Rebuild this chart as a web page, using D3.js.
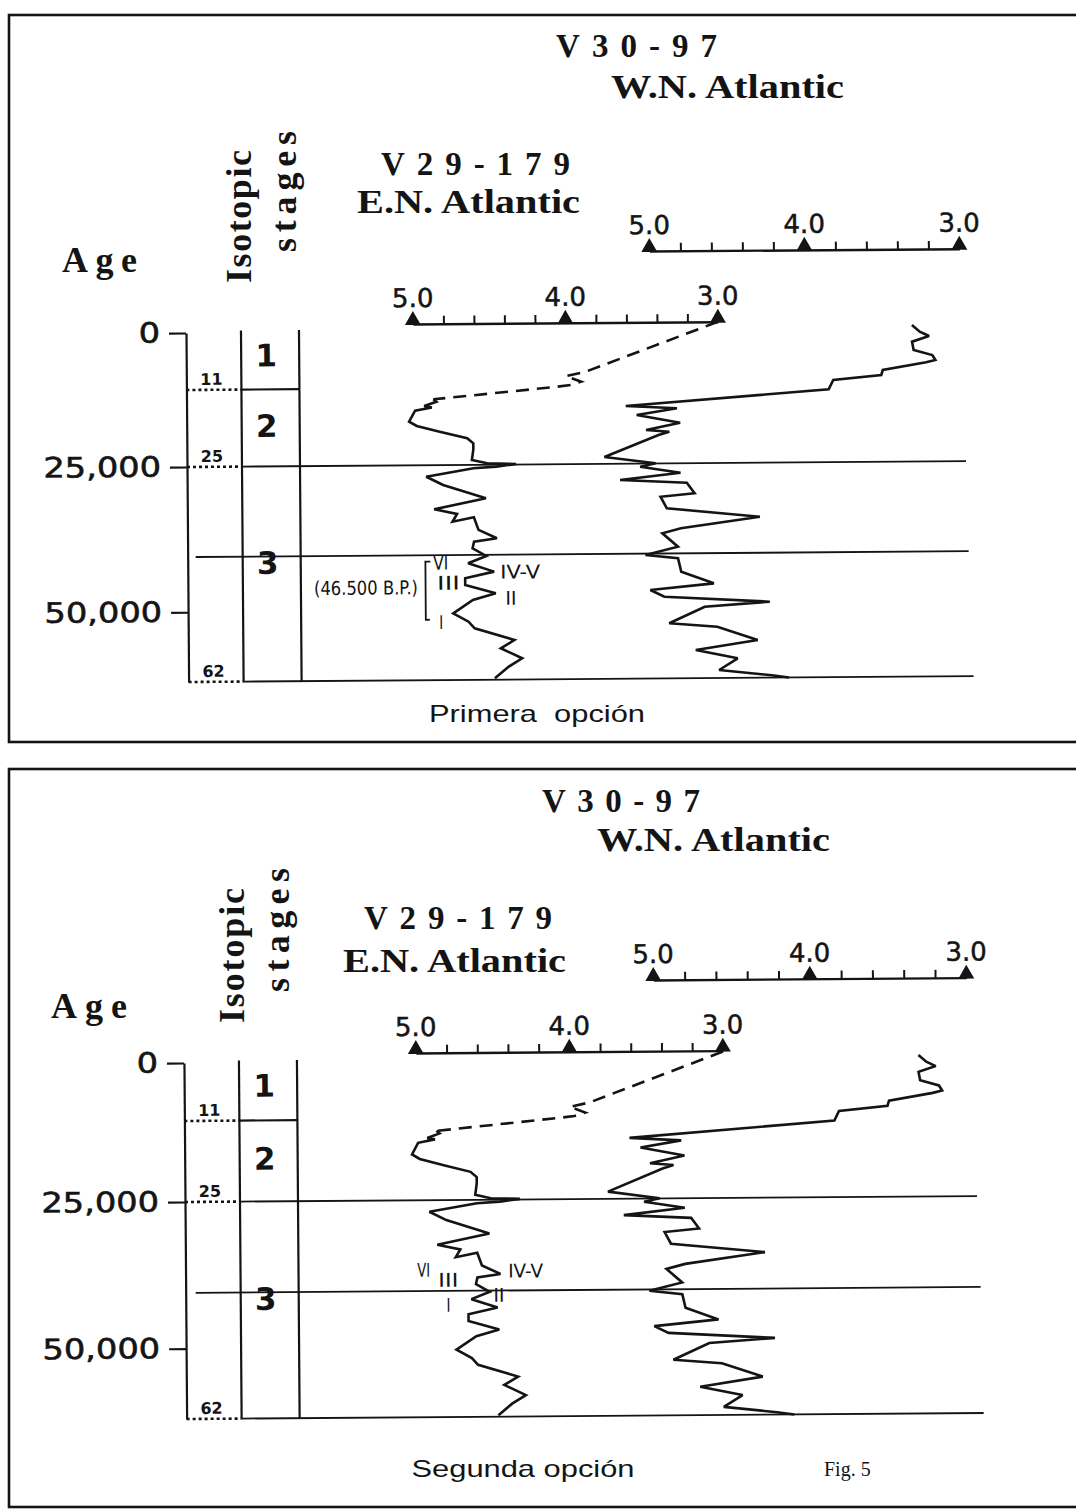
<!DOCTYPE html>
<html>
<head>
<meta charset="utf-8">
<script src="https://cdnjs.cloudflare.com/ajax/libs/d3/7.8.5/d3.min.js"></script>
<style>
  body { margin: 0; background: #fff; }
  svg { display: block; }
</style>
</head>
<body>
<svg id="fig" width="1076" height="1511"></svg>
<script>
// ---- values: ages in kyr B.P., d18O in per mil ----
var ageTicks = [0, 25, 50];
var ageTickLabels = ["0", "25,000", "50,000"];
var stageBounds = [11, 25, 62];
var stageNames = ["1", "2", "3"];
var stageNameAge = [4.4, 17.6, 41.6];
var corrLineAge = [25, 40.5, 62];
var o18Major = [5.0, 4.0, 3.0];
var o18Minor = [4.8, 4.6, 4.4, 4.2, 3.8, 3.6, 3.4, 3.2];

var coreNames = ["V30-97", "V29-179"];
var coreRegions = ["W.N. Atlantic", "E.N. Atlantic"];
var captions = ["Primera  opción", "Segunda opción"];

// V29-179 (E.N. Atlantic), dashed top part then the measured curve
var v29DashAge = [-1.4, 8.05, 8.85, 9.97, 10.6, 11.0, 13.03];
var v29DashO18 = [3.0, 3.87, 4.00, 3.90, 3.97, 4.09, 4.87];
var v29Age = [13.03, 13.47, 14.24, 14.5, 15.07, 17.07, 17.86, 18.93, 20.16, 21.08,
              22.17, 24.11, 24.74, 24.9, 25.34, 25.59, 26.98, 28.42, 30.77, 32.6,
              33.44, 34.76, 34.03, 36.2, 37.67, 38.23, 39.36, 40.7, 41.93, 43.4,
              44.5, 45.67, 47.13, 48.25, 50.52, 51.98, 53.13, 55.2, 56.6, 58.35,
              59.8, 61.76];
var v29O18 = [4.87, 4.85, 4.93, 4.88, 4.99, 5.03, 4.98, 4.83, 4.65, 4.61,
              4.61, 4.62, 4.52, 4.33, 4.46, 4.61, 4.92, 4.81, 4.53, 4.87,
              4.72, 4.75, 4.61, 4.58, 4.46, 4.61, 4.62, 4.53, 4.65, 4.48,
              4.67, 4.67, 4.47, 4.62, 4.75, 4.65, 4.61, 4.35, 4.44, 4.30,
              4.39, 4.48];

// V30-97 (W.N. Atlantic)
var v30Age = [-0.49, 0.81, 1.65, 2.73, 4.33, 5.33, 6.30, 6.73, 8.15, 9.11,
              10.01, 11.75, 14.5, 14.99, 16.16, 17.62, 18.9, 19.24, 19.82, 23.75,
              24.96, 25.53, 26.62, 27.8, 28.35, 30.18, 30.73, 32.73, 34.29, 36.19,
              37.03, 39.35, 40.74, 41.35, 43.66, 45.7, 46.77, 47.94, 48.93, 49.71,
              52.52, 53.17, 55.51, 57.15, 58.63, 60.62, 61.6, 62];
var v30O18 = [3.31, 3.26, 3.20, 3.31, 3.30, 3.18, 3.16, 3.22, 3.50, 3.51,
              3.82, 3.85, 5.16, 4.83, 5.09, 4.81, 5.03, 4.88, 4.95, 5.30,
              4.97, 5.07, 4.81, 5.20, 4.77, 4.72, 4.94, 4.90, 4.30, 4.81,
              4.93, 4.83, 5.04, 4.83, 4.81, 4.60, 5.01, 4.92, 4.24, 4.66,
              4.89, 4.58, 4.32, 4.72, 4.45, 4.57, 4.23, 4.12];

// interstadial labels on V29-179 (first / second option)
var notes1 = ["VI", "IV-V", "III", "II", "I", "(46.500 B.P.)"];
var notes1Age = [41.85, 43.47, 45.3, 47.96, 52.07, 46.05];
var notes1O18 = [4.83, 4.44, 4.78, 4.37, 4.83, 4.98];
var bracket1Age = [41.6, 51.6];
var bracket1O18 = 4.93;
var notes2 = ["VI", "III", "IV-V", "II", "I"];
var notes2Age = [36.9, 38.64, 37.17, 41.26, 42.9];
var notes2O18 = [4.96, 4.80, 4.41, 4.47, 4.80];

// ---- layout of the two panels (pixels) ----
var layout = [
  { box: [9, 15, 1100, 742], ageY: [333, 390, 467, 682], axisX: 187, col: [242, 300],
    lowX: [414, 719], lowY: 325.7, upX: [651, 961], upY: 254.5,
    lineFrom: [242, 195, 242], lineTo: [966, 968, 972],
    t30: [556, 57, 161], r30: [611, 98, 233], t29: [381, 175, 189], r29: [357, 213, 223],
    age: [62, 272, 75], iso: [251, 216.5, 133], stg: [296, 191.5, 121],
    cap: [537, 722, 216],
    notes: notes1, notesAge: notes1Age, notesO18: notes1O18,
    noteAnchor: ["middle", "start", "middle", "middle", "middle", "end"],
    noteLen: [15, 40, 23, 11, 4, 104] },
  { box: [9, 769, 1100, 1507], ageY: [1063, 1121, 1202, 1419], axisX: 185, col: [240, 298],
    lowX: [417, 724], lowY: 1054.7, upX: [655, 968], upY: 983.5,
    lineFrom: [240, 195, 240], lineTo: [977, 980, 982],
    t30: [542, 812, 158], r30: [597, 851, 233], t29: [364, 929, 188], r29: [343, 972, 223],
    age: [51, 1018, 76], iso: [244, 955.5, 135], stg: [289, 930, 124],
    cap: [523, 1477, 223],
    notes: notes2, notesAge: notes2Age, notesO18: notes2O18,
    noteAnchor: ["middle", "middle", "start", "middle", "middle"],
    noteLen: [13, 20, 35, 11, 4] }
];

var ink = "#141414";
var tilt = -0.43;   // the scanned drawing leans a little
var svg = d3.select("#fig");
svg.append("rect").attr("width", 1076).attr("height", 1511).attr("fill", "#fff");

function serif(g, str, pos, size, adjust) {
  return g.append("text")
    .attr("x", pos[0]).attr("y", pos[1])
    .attr("font-family", "'Liberation Serif', 'DejaVu Serif', serif")
    .attr("font-weight", "bold").attr("font-size", size).attr("fill", ink)
    .attr("textLength", pos[2]).attr("lengthAdjust", adjust || "spacing")
    .text(str);
}

function o18Axis(g, x, y0) {
  var ax = g.append("g").attr("transform", "translate(0," + y0 + ")")
    .call(d3.axisTop(x).tickValues(o18Minor).tickSize(8).tickSizeOuter(0).tickFormat(""));
  ax.select(".domain").attr("stroke", ink).attr("stroke-width", 2.4);
  ax.selectAll(".tick line").attr("stroke", ink).attr("stroke-width", 2);

  g.selectAll(null).data(o18Major).enter().append("path")
    .attr("d", "M-8,1L8,1L0,-13Z")
    .attr("transform", function(d) { return "translate(" + x(d) + "," + y0 + ")"; })
    .attr("fill", ink);

  g.selectAll(null).data(o18Major).enter().append("text")
    .attr("x", function(d) { return x(d); }).attr("y", y0 - 17)
    .attr("text-anchor", "middle")
    .attr("font-family", "'DejaVu Sans', sans-serif").attr("font-size", 26)
    .attr("fill", ink).attr("stroke", ink).attr("stroke-width", 0.5)
    .text(function(d) { return d.toFixed(1); });
}

function drawPanel(p, i) {
  var root = svg.append("g");

  root.append("rect")
    .attr("x", p.box[0]).attr("y", p.box[1])
    .attr("width", p.box[2] - p.box[0]).attr("height", p.box[3] - p.box[1])
    .attr("fill", "none").attr("stroke", ink).attr("stroke-width", 2.6);

  // headings
  serif(root, coreNames[0], p.t30, 33);
  serif(root, coreRegions[0], p.r30, 34, "spacingAndGlyphs");
  serif(root, coreNames[1], p.t29, 33);
  serif(root, coreRegions[1], p.r29, 34, "spacingAndGlyphs");
  serif(root, "Age", p.age, 36);

  [["Isotopic", p.iso], ["stages", p.stg]].forEach(function(t) {
    root.append("text")
      .attr("transform", "translate(" + t[1][0] + "," + t[1][1] + ") rotate(-90)")
      .attr("text-anchor", "middle")
      .attr("font-family", "'Liberation Serif', 'DejaVu Serif', serif")
      .attr("font-weight", "bold").attr("font-size", 36).attr("fill", ink)
      .attr("textLength", t[1][2]).attr("lengthAdjust", "spacing")
      .text(t[0]);
  });

  root.append("text")
    .attr("x", p.cap[0]).attr("y", p.cap[1]).attr("text-anchor", "middle")
    .attr("font-family", "'Liberation Sans', Arial, sans-serif").attr("font-size", 24)
    .attr("fill", ink).attr("textLength", p.cap[2]).attr("lengthAdjust", "spacingAndGlyphs")
    .style("white-space", "pre")
    .text(captions[i]);

  if (i === 1) {
    root.append("text").attr("x", 824).attr("y", 1476)
      .attr("font-family", "'Liberation Serif', serif").attr("font-size", 20).attr("fill", ink)
      .text("Fig. 5");
  }

  // everything drawn against the scales sits in a slightly tilted group
  var plot = root.append("g")
    .attr("transform", "rotate(" + tilt + "," + p.axisX + "," + p.ageY[2] + ")");

  var y = d3.scaleLinear().domain([0].concat(stageBounds)).range(p.ageY);
  var xLow = d3.scaleLinear().domain([5, 3]).range(p.lowX);
  var xUp = d3.scaleLinear().domain([5, 3]).range(p.upX);

  // age axis
  var ay = plot.append("g").attr("transform", "translate(" + p.axisX + ",0)")
    .call(d3.axisLeft(y).tickValues(ageTicks).tickSize(17).tickSizeOuter(0).tickPadding(9)
      .tickFormat(function(d, k) { return ageTickLabels[k]; }));
  ay.select(".domain").attr("stroke", ink).attr("stroke-width", 2.2);
  ay.selectAll(".tick line").attr("stroke", ink).attr("stroke-width", 2.2);
  ay.selectAll(".tick text")
    .attr("font-family", "'DejaVu Sans', sans-serif").attr("font-size", 28)
    .attr("fill", ink).attr("stroke", ink).attr("stroke-width", 0.6)
    .each(function() {
      var w = this.getComputedTextLength();
      d3.select(this).attr("textLength", w * 1.2).attr("lengthAdjust", "spacingAndGlyphs");
    });

  // stage column
  plot.selectAll(null).data(p.col).enter().append("line")
    .attr("x1", function(d) { return d; }).attr("x2", function(d) { return d; })
    .attr("y1", y(-0.4)).attr("y2", y(62))
    .attr("stroke", ink).attr("stroke-width", 2.2);

  // dotted boundaries between age axis and column, with their labels
  plot.selectAll(null).data(stageBounds).enter().append("line")
    .attr("x1", p.axisX).attr("x2", p.col[0])
    .attr("y1", function(d) { return y(d); }).attr("y2", function(d) { return y(d); })
    .attr("stroke", ink).attr("stroke-width", 2.6).attr("stroke-dasharray", "3,3");
  plot.selectAll(null).data(stageBounds).enter().append("text")
    .attr("x", p.axisX + 25).attr("y", function(d) { return y(d) - 5; })
    .attr("text-anchor", "middle")
    .attr("font-family", "'DejaVu Sans', sans-serif").attr("font-weight", "bold")
    .attr("font-size", 16).attr("fill", ink)
    .text(function(d) { return d; });
  plot.append("line")
    .attr("x1", p.col[0]).attr("x2", p.col[1]).attr("y1", y(11)).attr("y2", y(11))
    .attr("stroke", ink).attr("stroke-width", 2.2);

  plot.selectAll(null).data(stageNames).enter().append("text")
    .attr("x", (p.col[0] + p.col[1]) / 2 - 4)
    .attr("y", function(d, k) { return y(stageNameAge[k]); })
    .attr("dy", "0.36em").attr("text-anchor", "middle")
    .attr("font-family", "'DejaVu Sans', sans-serif").attr("font-weight", "bold")
    .attr("font-size", 31).attr("fill", ink)
    .text(function(d) { return d; });

  // correlation lines
  plot.selectAll(null).data(corrLineAge).enter().append("line")
    .attr("x1", function(d, k) { return p.lineFrom[k]; })
    .attr("x2", function(d, k) { return p.lineTo[k]; })
    .attr("y1", function(d) { return y(d); }).attr("y2", function(d) { return y(d); })
    .attr("stroke", ink).attr("stroke-width", 1.8);

  // d18O scales
  o18Axis(plot, xLow, p.lowY);
  o18Axis(plot, xUp, p.upY);

  // curves
  var lineLow = d3.line().x(function(d) { return xLow(d[1]); }).y(function(d) { return y(d[0]); });
  var lineUp = d3.line().x(function(d) { return xUp(d[1]); }).y(function(d) { return y(d[0]); });

  plot.append("path").datum(d3.zip(v29DashAge, v29DashO18))
    .attr("d", lineLow).attr("fill", "none").attr("stroke", ink)
    .attr("stroke-width", 2.6).attr("stroke-dasharray", "13,8");
  plot.append("path").datum(d3.zip(v29Age, v29O18))
    .attr("d", lineLow).attr("fill", "none").attr("stroke", ink)
    .attr("stroke-width", 2.6).attr("stroke-linejoin", "miter").attr("stroke-miterlimit", 2.5);
  plot.append("path").datum(d3.zip(v30Age, v30O18))
    .attr("d", lineUp).attr("fill", "none").attr("stroke", ink)
    .attr("stroke-width", 2.6).attr("stroke-linejoin", "miter").attr("stroke-miterlimit", 2.5);

  // interstadial labels
  plot.selectAll(null).data(p.notes).enter().append("text")
    .attr("x", function(d, k) { return xLow(p.notesO18[k]); })
    .attr("y", function(d, k) { return y(p.notesAge[k]); })
    .attr("dy", "0.35em")
    .attr("text-anchor", function(d, k) { return p.noteAnchor[k]; })
    .attr("font-family", "'Liberation Sans Narrow', 'DejaVu Sans Condensed', 'Liberation Sans', sans-serif")
    .attr("font-size", 19).attr("fill", ink)
    .attr("textLength", function(d, k) { return p.noteLen[k]; })
    .attr("lengthAdjust", "spacingAndGlyphs")
    .text(function(d) { return d; });

  if (i === 0) {
    var bx = xLow(bracket1O18), b0 = y(bracket1Age[0]), b1 = y(bracket1Age[1]);
    plot.append("path")
      .attr("d", "M" + (bx + 5) + "," + b0 + "H" + bx + "V" + b1 + "H" + (bx + 4))
      .attr("fill", "none").attr("stroke", ink).attr("stroke-width", 1.8);
  }
}

layout.forEach(drawPanel);
</script>
</body>
</html>
